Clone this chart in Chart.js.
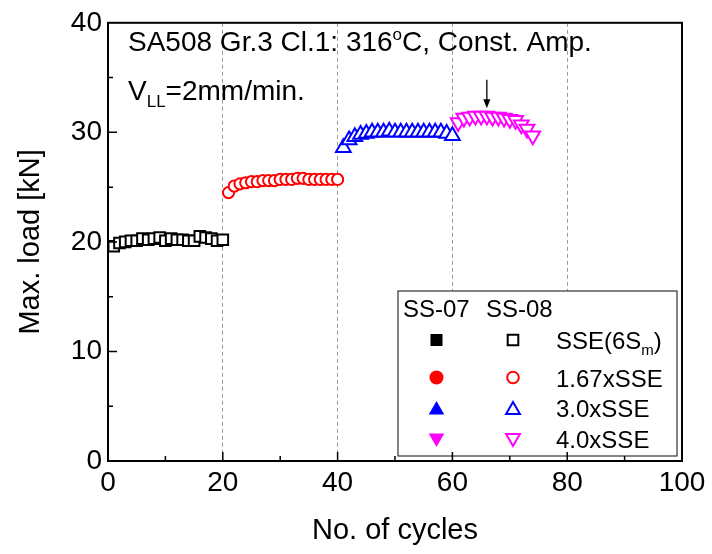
<!DOCTYPE html>
<html lang="en">
<head>
<meta charset="utf-8">
<script src="https://cdn.jsdelivr.net/npm/chart.js@4.4.1/dist/chart.umd.min.js"></script>
<style>
    html, body {
        margin: 0;
        padding: 0;
        background: white;
    }
</style>
</head>
<body>
<canvas id="chart" width="712" height="554"></canvas>
<script>

    // SS-08, max. load [kN] per cycle, one block per amplitude
    const cycSSE = [1, 2, 3, 4, 5, 6, 7, 8, 9, 10, 11, 12, 13, 14, 15, 16, 17, 18, 19, 20];
    const loadSSE = [19.6, 19.9, 20.0, 20.1, 20.1, 20.3, 20.2, 20.3, 20.4, 20.1, 20.3, 20.2, 20.2, 20.1, 20.1, 20.5, 20.4, 20.3, 20.1, 20.2];

    const cyc167 = [21, 22, 23, 24, 25, 26, 27, 28, 29, 30, 31, 32, 33, 34, 35, 36, 37, 38, 39, 40];
    const load167 = [24.5, 25.1, 25.3, 25.4, 25.5, 25.5, 25.6, 25.6, 25.6, 25.7, 25.7, 25.7, 25.8, 25.8, 25.7, 25.7, 25.7, 25.7, 25.7, 25.7];

    const cyc30 = [41, 42, 43, 44, 45, 46, 47, 48, 49, 50, 51, 52, 53, 54, 55, 56, 57, 58, 59, 60];
    const load30 = [28.6, 29.3, 29.6, 29.8, 29.9, 30.0, 30.0, 30.0, 30.1, 30.0, 30.0, 30.0, 30.0, 30.0, 30.0, 30.0, 30.0, 30.0, 29.9, 29.7];

    const cyc40 = [61, 62, 63, 64, 65, 66, 67, 68, 69, 70, 71, 72, 73, 74];
    const load40 = [30.9, 31.3, 31.4, 31.5, 31.5, 31.5, 31.4, 31.4, 31.3, 31.2, 31.1, 30.7, 30.3, 29.7];

    const xTicks = [0, 20, 40, 60, 80, 100];
    const yTicks = [0, 10, 20, 30, 40];

    // legend rows: label, colour, point style, rotation
    const legLabels = ['SSE(6S', '1.67xSSE', '3.0xSSE', '4.0xSSE'];
    const legColors = ['#000000', '#ff0000', '#0000ff', '#ff00ff'];
    const legStyles = ['rect', 'circle', 'triangle', 'triangle'];
    const legRot = [0, 0, 0, 180];

    // arrow marking the cycle of interest
    const arrowCycle = 66;
    const arrowFrom = 34.8;
    const arrowTo = 32.2;

    const FF = "'Liberation Sans', Arial, sans-serif";

    function pts(xs, ys) {
        return xs.map((v, i) => ({x: v, y: ys[i]}));
    }

    function openSet(xs, ys, color, style, r, rot) {
        return {
            data: pts(xs, ys),
            pointStyle: style,
            pointRadius: r,
            pointHoverRadius: r,
            pointRotation: rot,
            pointBorderColor: color,
            pointBackgroundColor: '#ffffff',
            pointBorderWidth: 2,
            showLine: false
        };
    }

    // draws text pieces with sub/superscripts, returns end x
    function richText(ctx, parts, x, y) {
        for (const p of parts) {
            ctx.font = p[1] + 'px ' + FF;
            ctx.fillText(p[0], x, y + p[2]);
            x += ctx.measureText(p[0]).width;
        }
        return x;
    }

    function marker(ctx, style, x, y, r, rot, color, filled) {
        ctx.save();
        ctx.translate(x, y);
        ctx.rotate(rot * Math.PI / 180);
        ctx.beginPath();
        if (style === 'rect') {
            const s = r * Math.SQRT1_2;
            ctx.rect(-s, -s, 2 * s, 2 * s);
        } else if (style === 'circle') {
            ctx.arc(0, 0, r, 0, Math.PI * 2);
        } else {
            for (let k = 0; k < 3; k++) {
                const a = k * 2 * Math.PI / 3;
                const px = Math.sin(a) * r, py = -Math.cos(a) * r;
                if (k === 0) ctx.moveTo(px, py); else ctx.lineTo(px, py);
            }
            ctx.closePath();
        }
        if (filled) {
            ctx.fillStyle = color;
            ctx.fill();
        } else {
            ctx.fillStyle = '#ffffff';
            ctx.fill();
            ctx.strokeStyle = color;
            ctx.lineWidth = 2;
            ctx.stroke();
        }
        ctx.restore();
    }

    const decor = {
        id: 'decor',
        afterDraw(chart) {
            const {ctx, chartArea: a, scales: {x, y}} = chart;
            ctx.save();
            ctx.fillStyle = '#000';
            ctx.textBaseline = 'alphabetic';
            ctx.textAlign = 'left';

            // header text
            richText(ctx, [['SA508 Gr.3 Cl.1: 316', 28, 0], ['o', 17, -11], ['C, Const. Amp.', 28, 0]], a.left + 20, a.top + 28);
            richText(ctx, [['V', 28, 0], ['LL', 17, 7], ['=2mm/min.', 28, 0]], a.left + 20, a.top + 77);

            // arrow
            const ax = x.getPixelForValue(arrowCycle);
            const ay1 = y.getPixelForValue(arrowFrom);
            const ay2 = y.getPixelForValue(arrowTo);
            ctx.strokeStyle = '#000';
            ctx.lineWidth = 1.3;
            ctx.beginPath();
            ctx.moveTo(ax, ay1);
            ctx.lineTo(ax, ay2 - 6);
            ctx.stroke();
            ctx.beginPath();
            ctx.moveTo(ax - 3.5, ay2 - 9);
            ctx.lineTo(ax + 3.5, ay2 - 9);
            ctx.lineTo(ax, ay2);
            ctx.closePath();
            ctx.fill();

            // legend box
            const lx = 398, ly = 291, lw = 279, lh = 165;
            ctx.fillStyle = '#fff';
            ctx.fillRect(lx, ly, lw, lh);
            ctx.strokeStyle = '#333';
            ctx.lineWidth = 1.2;
            ctx.strokeRect(lx, ly, lw, lh);

            ctx.fillStyle = '#000';
            ctx.font = '24px ' + FF;
            ctx.fillText('SS-07', 403, 317);
            ctx.fillText('SS-08', 486, 317);

            const rowY = [340, 377.5, 408, 439];
            const sizes = {rect: 8.5, circle: 7, triangle: 9};
            const osizes = {rect: 7.5, circle: 5.8, triangle: 8};
            for (let i = 0; i < legLabels.length; i++) {
                const st = legStyles[i];
                const cy = rowY[i] + (st === 'triangle' ? (legRot[i] ? -1 : 2) : 0);
                marker(ctx, st, 436.5, cy, sizes[st], legRot[i], legColors[i], true);
                marker(ctx, st, 513, cy, osizes[st], legRot[i], legColors[i], false);
                ctx.fillStyle = '#000';
                if (i === 0) {
                    richText(ctx, [[legLabels[i], 24, 0], ['m', 15, 6], [')', 24, 0]], 556, rowY[i] + 9);
                } else {
                    richText(ctx, [[legLabels[i], 24, 0]], 556, rowY[i] + 9);
                }
            }

            // frame and inward ticks
            ctx.strokeStyle = '#000';
            ctx.lineWidth = 2;
            ctx.strokeRect(a.left, a.top, a.right - a.left, a.bottom - a.top);
            ctx.lineWidth = 1.5;
            ctx.beginPath();
            for (let v = 10; v < 100; v += 10) {
                const px = x.getPixelForValue(v);
                const len = v % 20 === 0 ? 9 : 5;
                ctx.moveTo(px, a.bottom);
                ctx.lineTo(px, a.bottom - len);
            }
            for (let v = 5; v < 40; v += 5) {
                const py = y.getPixelForValue(v);
                const len = v % 10 === 0 ? 9 : 5;
                ctx.moveTo(a.left, py);
                ctx.lineTo(a.left + len, py);
            }
            ctx.stroke();
            ctx.restore();
        }
    };

    const ctx = document.getElementById('chart');

    const chart = new Chart(ctx, {
        type: 'scatter',
        data: {
            datasets: [
                openSet(cycSSE, loadSSE, '#000000', 'rect', 7.5, 0),
                openSet(cyc167, load167, '#ff0000', 'circle', 5.6, 0),
                openSet(cyc30, load30, '#0000ff', 'triangle', 8.5, 0),
                openSet(cyc40, load40, '#ff00ff', 'triangle', 8.5, 180)
            ]
        },
        options: {
            responsive: false,
            animation: false,
            devicePixelRatio: 1,
            layout: {
                padding: {top: 22, right: 30, left: 0, bottom: 0}
            },
            plugins: {
                legend: {display: false},
                tooltip: {enabled: false}
            },
            scales: {
                x: {
                    type: 'linear',
                    min: 0,
                    max: 100,
                    afterBuildTicks: s => { s.ticks = xTicks.map(v => ({value: v})); },
                    ticks: {
                        padding: 5,
                        color: '#000',
                        font: {family: FF, size: 28}
                    },
                    grid: {
                        drawTicks: false,
                        lineWidth: 1,
                        color: c => (c.tick && c.tick.value > 0 && c.tick.value < 100) ? '#9a9a9a' : 'rgba(0,0,0,0)'
                    },
                    border: {display: false, dash: [4, 3]},
                    title: {
                        display: true,
                        text: 'No. of cycles',
                        color: '#000',
                        font: {family: FF, size: 29},
                        padding: {top: 0, bottom: 6}
                    },
                    afterFit: s => { s.height = 93; }
                },
                y: {
                    type: 'linear',
                    min: 0,
                    max: 40,
                    afterBuildTicks: s => { s.ticks = yTicks.map(v => ({value: v})); },
                    ticks: {
                        padding: 6,
                        color: '#000',
                        font: {family: FF, size: 28}
                    },
                    grid: {display: false, drawTicks: false},
                    border: {display: false},
                    title: {
                        display: true,
                        text: 'Max. load [kN]',
                        color: '#000',
                        font: {family: FF, size: 29},
                        padding: {top: 14, bottom: 0}
                    },
                    afterFit: s => { s.width = 108; }
                }
            }
        },
        plugins: [decor]
    });

</script>
</body>
</html>
